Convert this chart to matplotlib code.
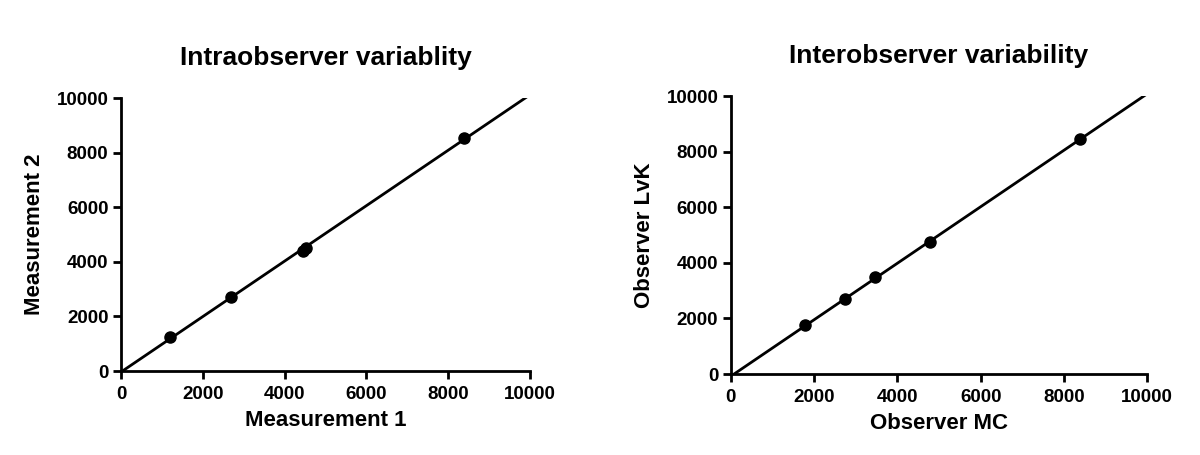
import numpy as np
import matplotlib.pyplot as plt

plt.rcParams['font.family'] = ['Liberation Sans', 'DejaVu Sans']
plt.rcParams['font.weight'] = 'bold'

# Intraobserver data
meas1 = [1205, 2695, 4437, 4520, 8388]
meas2 = [1236, 2714, 4412, 4499, 8533]

# Interobserver data
obs_mc = [1791, 2736, 3471, 4784, 8385]
obs_lvk = [1751, 2686, 3477, 4736, 8453]

ticks = [0, 2000, 4000, 6000, 8000, 10000]

fig = plt.figure(figsize=(12, 4.55), dpi=100)
ax1 = fig.add_axes([0.1008, 0.1846, 0.341, 0.600])
ax2 = fig.add_axes([0.609, 0.178, 0.347, 0.611])


def panel(ax, x, y, title, xlabel, ylabel):
    slope, icpt = np.polyfit(x, y, 1)
    xl = np.linspace(0, 10000, 200)
    ax.plot(xl, slope * xl + icpt, color='black', lw=2, clip_on=True)
    ax.plot(x, y, 'o', color='black', ms=8, clip_on=False)
    ax.set_xlim(0, 10000)
    ax.set_ylim(0, 10000)
    ax.set_xticks(ticks)
    ax.set_yticks(ticks)
    for s in ['top', 'right']:
        ax.spines[s].set_visible(False)
    for s in ['left', 'bottom']:
        ax.spines[s].set_linewidth(2)
    ax.tick_params(direction='out', length=6, width=2, labelsize=13.5)
    ax.tick_params(axis='x', pad=5)
    ax.tick_params(axis='y', pad=3)
    for lab in ax.get_xticklabels() + ax.get_yticklabels():
        lab.set_fontweight('bold')
    ax.set_title(title, fontsize=19, fontweight='bold', pad=24)
    ax.set_xlabel(xlabel, fontsize=16, fontweight='bold', labelpad=5)
    ax.set_ylabel(ylabel, fontsize=16, fontweight='bold', labelpad=8)


panel(ax1, meas1, meas2, 'Intraobserver variablity', 'Measurement 1', 'Measurement 2')
panel(ax2, obs_mc, obs_lvk, 'Interobserver variability', 'Observer MC', 'Observer LvK')

fig.savefig('out.png', dpi=100)
